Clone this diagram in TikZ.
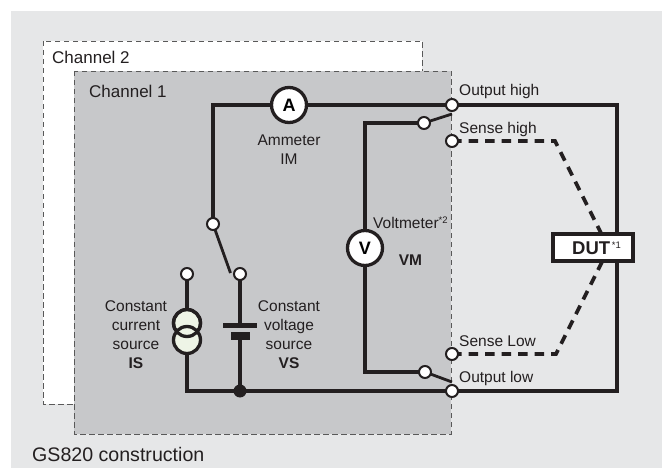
\documentclass[tikz,border=0pt]{standalone}
\usepackage{fontspec}
\setmainfont{Liberation Sans}
\definecolor{panelgray}{HTML}{E6E7E8}
\definecolor{chgray}{HTML}{C7C8CA}
\definecolor{inkdark}{HTML}{231F20}
\definecolor{coilgreen}{HTML}{EEF4E6}
\tikzset{
	wire/.style={draw=inkdark, line width=3.3pt},
	armwire/.style={draw=inkdark, line width=2.8pt},
	sensewire/.style={draw=inkdark, line width=3.6pt, dash pattern=on 9.5pt off 7pt},
	chbox/.style={draw=black!65, line width=0.9pt, dash pattern=on 5.5pt off 3.5pt},
	term/.style={circle, draw=inkdark, line width=2pt, fill=white, minimum size=12pt, inner sep=0pt},
	meter/.style={circle, draw=inkdark, line width=3.3pt, fill=white, minimum size=35pt, inner sep=0pt, font=\fontsize{18}{20}\selectfont\bfseries},
	coil/.style={circle, draw=inkdark, line width=3.3pt, minimum size=27pt, inner sep=0pt},
	lbl/.style={text=inkdark, font=\fontsize{15.5}{19}\selectfont, align=center, inner sep=0pt},
	title/.style={lbl, anchor=west, font=\fontsize{17}{19}\selectfont},
}
\begin{document}
\begin{tikzpicture}[x=1pt, y=-1pt]
	\useasboundingbox (0,0) rectangle (662,468);
	\fill[panelgray] (11,11) rectangle (662,468);
	\filldraw[fill=white, chbox] (43,41) rectangle (422,404);
	\filldraw[fill=chgray, chbox] (74,71) rectangle (451,434);
	% titles
	\node[title] (ch2) at (52,57) {Channel 2};
	\node[title] (ch1) at (89,91) {Channel 1};
	\node[title, font=\fontsize{19.6}{22}\selectfont] (gs) at (32,454) {GS820 construction};
	% free ends and corners
	\coordinate (swhighend) at (452,114);
	\coordinate (swlowend) at (452,382);
	\coordinate (swsrcend) at (230.5,273);
	\coordinate (cnra) at (213,105);
	\coordinate (cnrb) at (365,123);
	\coordinate (cnrc) at (365,372);
	\coordinate (cnrd) at (187,391);
	\coordinate (cnre) at (617,105);
	\coordinate (cnrf) at (617,391);
	\coordinate (sensea) at (555,141);
	\coordinate (senseb) at (556,354);
	\coordinate (dutup) at (601,233);
	\coordinate (dutdown) at (602,262);
	\coordinate (vsfoot) at (240,391);
	% wires go first, the terminals cover their ends
	\draw[wire, line join=miter] (213,224) -- (cnra) -- (452,105) -- (cnre) -- (cnrf) -- (452,391) -- (cnrd) -- (187,274);
	\draw[wire, line join=miter] (424,123) -- (cnrb) -- (cnrc) -- (425,372);
	\draw[wire] (240,274) -- (vsfoot);
	\draw[armwire] (424,123) -- (swhighend);
	\draw[armwire] (425,372) -- (swlowend);
	\draw[armwire] (213,224) -- (swsrcend);
	\draw[sensewire] (452,141) -- (sensea) -- (dutup);
	\draw[sensewire] (452,354) -- (senseb) -- (dutdown);
	% terminals
	\node[term] (outhigh) at (452,105) {};
	\node[term] (sensehigh) at (452,141) {};
	\node[term] (senselow) at (452,354) {};
	\node[term] (outlow) at (452,391) {};
	\node[term] (swhigh) at (424,123) {};
	\node[term] (swlow) at (425,372) {};
	\node[term] (swsrc) at (213,224) {};
	\node[term] (termvs) at (240,274) {};
	\node[term] (termis) at (187,274) {};
	% sources
	\node[coil, fill=coilgreen] (coila) at (187,323) {};
	\node[coil, fill=coilgreen] (coilb) at (187,340) {};
	\node[coil] (coilc) at (187,323) {};
	\fill[chgray] (226,328) rectangle (254,332);
	\fill[inkdark] (223,322.5) rectangle (257,328);
	\fill[inkdark] (231,332) rectangle (250,340);
	\node[circle, fill=inkdark, minimum size=13pt, inner sep=0pt] (junction) at (240,391) {};
	% meters
	\node[meter] (ammeter) at (289,105) {A};
	\node[meter] (voltmeter) at (365,248) {V};
	% device
	\node[draw=inkdark, line width=3.3pt, fill=white, minimum width=80pt, minimum height=27pt, inner sep=0pt] (dut) at (593,247.5) {};
	\node[lbl, font=\fontsize{18.5}{20}\selectfont\bfseries, anchor=west] (dutname) at (572,248) {DUT\raisebox{6pt}{\fontsize{9.5}{10}\selectfont\,\normalfont*1}};
	% labels
	\node[lbl] (lblim) at (289,149.5) {Ammeter\\IM};
	\node[lbl, anchor=west] (lblvm) at (373,223) {Voltmeter\raisebox{5pt}{\fontsize{9.5}{10}\selectfont *2}};
	\node[lbl, font=\fontsize{15.5}{19}\selectfont\bfseries] (lblvmb) at (410.5,260) {VM};
	\node[lbl] (lblis) at (136,335) {Constant\\current\\source\\\textbf{IS}};
	\node[lbl] (lblvs) at (289,335) {Constant\\voltage\\source\\\textbf{VS}};
	\node[lbl, anchor=west] (lblouth) at (459,91) {Output high};
	\node[lbl, anchor=west] (lblsenh) at (459,129) {Sense high};
	\node[lbl, anchor=west] (lblsenl) at (459,341) {Sense Low};
	\node[lbl, anchor=west] (lbloutl) at (459,378) {Output low};
\end{tikzpicture}
\end{document}
